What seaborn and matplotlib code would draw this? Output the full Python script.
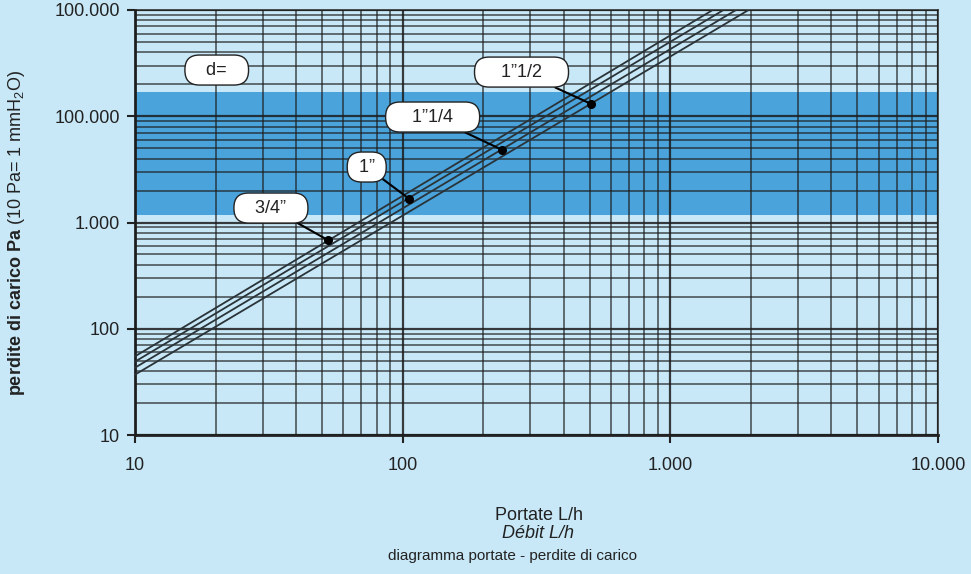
import numpy as np
import pandas as pd
import matplotlib
matplotlib.use("Agg")
import matplotlib.pyplot as plt
import seaborn as sns

# ---------------- data ----------------
diametri = ["3/4\u201d", "1\u201d", "1\u201d1/4", "1\u201d1/2"]
portata_inizio = [10, 10, 10, 10]
perdita_inizio = [55, 49, 43, 37]
portata_fine = [1440, 1580, 1760, 1960]
perdita_fine = [100000, 100000, 100000, 100000]

# callout anchor points on the lines and box centres
punto_x = [52.5, 106, 236, 507]
punto_y = [684, 1663, 4808, 13030]
box_x = [32.2, 73.4, 129.4, 278]
box_y = [1368, 3327, 9834, 26050]
box_spazi = [3, 1, 4, 4]

etichetta_d = "d="
d_x, d_y = 20.2, 27220

fascia = [1180, 16800]

x_ticks = [10, 100, 1000, 10000]
x_labels = ["10", "100", "1.000", "10.000"]
y_ticks = [10, 100, 1000, 10000, 100000]
y_labels = ["10", "100", "1.000", "100.000", "100.000"]

# ---------------- style ----------------
sns.set_theme(style="ticks")
plt.rcParams["font.family"] = ["Liberation Sans", "DejaVu Sans"]
plt.rcParams["mathtext.fontset"] = "custom"
plt.rcParams["mathtext.rm"] = "Liberation Sans"
plt.rcParams["mathtext.bf"] = "Liberation Sans:bold"
plt.rcParams["mathtext.it"] = "Liberation Sans:italic"

bg = "#C8E8F8"
band = "#4AA3DB"
ink = "#222222"

fig = plt.figure(figsize=(9.71, 5.74), dpi=100, facecolor=bg)
ax = fig.add_axes([135 / 971, 1 - 435 / 574, (938 - 135) / 971, (435 - 10) / 574])
ax.set_facecolor(bg)
ax.set_xscale("log")
ax.set_yscale("log")
ax.set_xlim(10, 10000)
ax.set_ylim(10, 100000)

ax.axhspan(fascia[0], fascia[1], color=band, zorder=0, lw=0)

ax.grid(which="major", color="#1c1c1c", lw=1.6, alpha=0.85, zorder=1)
ax.grid(which="minor", color="#1c1c1c", lw=1.2, alpha=0.72, zorder=1)
ax.set_axisbelow(False)

rows = []
for d, x0, y0, x1, y1 in zip(diametri, portata_inizio, perdita_inizio, portata_fine, perdita_fine):
    rows.append({"diametro": d, "portata": x0, "perdita": y0})
    rows.append({"diametro": d, "portata": x1, "perdita": y1})
df = pd.DataFrame(rows)
sns.lineplot(data=df, x="portata", y="perdita", units="diametro", estimator=None,
             color="#2a3338", lw=1.3, ax=ax, zorder=3, legend=False)

# callouts
bbox = dict(boxstyle="round,pad=0.36,rounding_size=0.8", fc="white", ec=ink, lw=1.0)
for d, px, py, bx, by, s in zip(diametri, punto_x, punto_y, box_x, box_y, box_spazi):
    sp = " " * s
    ax.annotate(sp + d + sp, xy=(px, py), xytext=(bx, by), ha="center", va="center",
                fontsize=13, color=ink, bbox=bbox, zorder=6,
                arrowprops=dict(arrowstyle="-", color="black", lw=1.5, shrinkA=0, shrinkB=0))
    ax.plot([px], [py], "o", color="black", ms=5.5, zorder=7)
ax.text(d_x, d_y, "   " + etichetta_d + "   ", ha="center", va="center", fontsize=13,
        color=ink, bbox=bbox, zorder=6)

# ticks & spines
ax.set_xticks(x_ticks)
ax.set_xticklabels(x_labels)
ax.set_yticks(y_ticks)
ax.set_yticklabels(y_labels)
ax.tick_params(which="minor", length=0)
ax.tick_params(axis="x", which="major", length=6, width=1.5, color=ink, pad=10, labelsize=13, labelcolor=ink)
ax.tick_params(axis="y", which="major", length=6, width=1.5, color=ink, pad=5, labelsize=13, labelcolor=ink)
for side in ["left", "bottom"]:
    ax.spines[side].set_color(ink)
    ax.spines[side].set_linewidth(2.0)
for side in ["top", "right"]:
    ax.spines[side].set_color("#333333")
    ax.spines[side].set_linewidth(1.2)
    ax.spines[side].set_visible(True)
ax.set_xlabel("")
ax.set_ylabel("")

fig.text(17 / 971, 1 - 233 / 574,
         r"$\mathbf{perdite\ di\ carico\ Pa}$ (10 Pa= 1 mmH$_2$O)",
         rotation=90, ha="center", va="center", fontsize=13, color=ink)
fig.text(539 / 971, 1 - 516 / 574, "Portate L/h", ha="center", va="center", fontsize=13, color=ink)
fig.text(538 / 971, 1 - 534 / 574, "D\u00e9bit L/h", ha="center", va="center", fontsize=13,
         style="italic", color=ink)
fig.text(512 / 971, 1 - 556 / 574, "diagramma portate - perdite di carico", ha="center",
         va="center", fontsize=11, color=ink)

fig.savefig("out.png", dpi=100, facecolor=bg)
